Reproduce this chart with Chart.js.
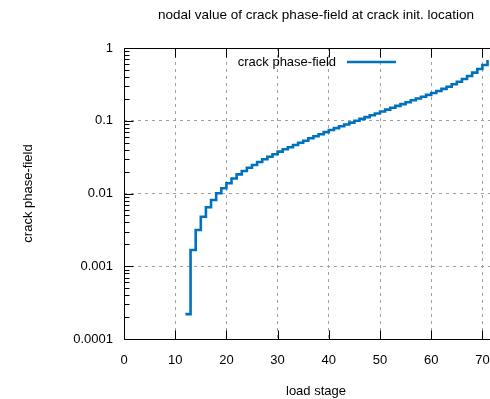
<!DOCTYPE html>
<html>
<head>
<meta charset="utf-8">
<script src="https://cdn.jsdelivr.net/npm/chart.js@4/dist/chart.umd.min.js"></script>
<style>
  html, body { margin: 0; padding: 0; overflow: hidden; background: #fff; }
  canvas { display: block; }
</style>
</head>
<body>
<canvas id="chart" width="632" height="399"></canvas>
<script>
// ------------------- Data -------------------
const loadStage = [12, 13, 14, 15, 16, 17, 18, 19, 20, 21, 22, 23, 24, 25, 26, 27, 28, 29, 30,
  31, 32, 33, 34, 35, 36, 37, 38, 39, 40, 41, 42, 43, 44, 45, 46, 47, 48, 49, 50,
  51, 52, 53, 54, 55, 56, 57, 58, 59, 60, 61, 62, 63, 64, 65, 66, 67, 68, 69, 70, 71];
const phaseField = [2.2e-4, 1.67e-3, 3.15e-3, 4.8e-3, 6.46e-3, 8.14e-3, 1.006e-2, 1.18e-2, 1.38e-2,
  1.61e-2, 1.83e-2, 2.04e-2, 2.26e-2, 2.47e-2, 2.71e-2, 2.95e-2, 3.2e-2, 3.46e-2, 3.76e-2,
  4.05e-2, 4.32e-2, 4.64e-2, 4.99e-2, 5.32e-2, 5.74e-2, 6.13e-2, 6.53e-2, 6.98e-2, 7.46e-2,
  7.93e-2, 8.39e-2, 8.88e-2, 9.43e-2, 9.98e-2, 0.106, 0.112, 0.119, 0.126, 0.134,
  0.142, 0.151, 0.160, 0.169, 0.180, 0.191, 0.202, 0.214, 0.227, 0.241,
  0.256, 0.274, 0.294, 0.317, 0.343, 0.375, 0.412, 0.458, 0.514, 0.584, 0.684];
const xTicks = [0, 10, 20, 30, 40, 50, 60, 70];
const yTicks = [0.0001, 0.001, 0.01, 0.1, 1];
const yTickLabels = ["0.0001", "0.001", "0.01", "0.1", "1"];

const FONT = "'Liberation Sans', Arial, sans-serif";
const LINE_COLOR = "#0072bd";

// ------------------- Frame, ticks, key -------------------
const framePlugin = {
  id: "frame",
  afterDatasetsDraw(chart) {
    const ctx = chart.ctx;
    const { left, right, top, bottom } = chart.chartArea;
    const xs = chart.scales.x, ys = chart.scales.y;
    const L = Math.round(left) + 0.5, T = Math.round(top) + 0.5, B = Math.round(bottom) + 0.5;
    ctx.save();
    ctx.strokeStyle = "#000";
    ctx.lineWidth = 1;
    ctx.beginPath();
    ctx.moveTo(L, T); ctx.lineTo(right, T);
    ctx.moveTo(L, T); ctx.lineTo(L, B);
    ctx.moveTo(L, B); ctx.lineTo(right, B);
    // x ticks, inward, bottom and top
    xTicks.forEach(v => {
      const px = Math.round(xs.getPixelForValue(v)) + 0.5;
      ctx.moveTo(px, B); ctx.lineTo(px, B - 9);
      ctx.moveTo(px, T); ctx.lineTo(px, T + 9);
    });
    // y ticks, major and minor
    yTicks.forEach((v, i) => {
      const py = Math.round(ys.getPixelForValue(v)) + 0.5;
      ctx.moveTo(L, py); ctx.lineTo(L + 9, py);
      if (i < yTicks.length - 1) {
        for (let m = 2; m <= 9; m++) {
          const pm = Math.round(ys.getPixelForValue(v * m)) + 0.5;
          ctx.moveTo(L, pm); ctx.lineTo(L + 5, pm);
        }
      }
    });
    ctx.stroke();

    // key
    const ds = chart.data.datasets[0];
    ctx.font = "13px " + FONT;
    ctx.fillStyle = "#000";
    ctx.textAlign = "right";
    ctx.textBaseline = "middle";
    ctx.fillText(ds.label, 336, 62);
    ctx.strokeStyle = LINE_COLOR;
    ctx.lineWidth = 2.5;
    ctx.beginPath();
    ctx.moveTo(347, 62); ctx.lineTo(396, 62);
    ctx.stroke();
    ctx.restore();
  }
};

// ------------------- Chart -------------------
new Chart(document.getElementById("chart"), {
  type: "line",
  data: {
    datasets: [{
      label: "crack phase-field",
      data: loadStage.map((s, i) => ({ x: s, y: phaseField[i] })),
      borderColor: LINE_COLOR,
      borderWidth: 2.6,
      pointRadius: 0,
      stepped: "before",
      fill: false
    }]
  },
  options: {
    responsive: false,
    animation: false,
    layout: { padding: 0 },
    plugins: {
      legend: { display: false },
      tooltip: { enabled: false },
      title: {
        display: true,
        text: "nodal value of crack phase-field at crack init. location",
        color: "#000",
        font: { family: FONT, size: 13.5, weight: "normal" },
        padding: { top: 7, bottom: 24.8 }
      }
    },
    scales: {
      x: {
        type: "linear",
        min: 0,
        max: 75,
        afterBuildTicks: s => { s.ticks = xTicks.map(v => ({ value: v })); },
        afterFit: s => { s.height = 60; },
        ticks: {
          color: "#000",
          font: { family: FONT, size: 13 },
          padding: 14,
          maxRotation: 0,
          callback: v => String(v)
        },
        grid: { color: "#a0a0a0", lineWidth: 1, drawTicks: false },
        border: { display: false, dash: [3, 4] },
        title: {
          display: true,
          text: "load stage",
          color: "#000",
          font: { family: FONT, size: 13 },
          padding: { top: 0, bottom: 0 }
        }
      },
      y: {
        type: "logarithmic",
        min: 0.0001,
        max: 1,
        afterBuildTicks: s => { s.ticks = yTicks.map(v => ({ value: v })); },
        afterFit: s => { s.width = 124; },
        ticks: {
          color: "#000",
          font: { family: FONT, size: 13 },
          padding: 11,
          callback: v => yTickLabels[yTicks.indexOf(v)]
        },
        grid: { color: "#a0a0a0", lineWidth: 1, drawTicks: false },
        border: { display: false, dash: [3, 4] },
        title: {
          display: true,
          text: "crack phase-field",
          color: "#000",
          font: { family: FONT, size: 13 },
          padding: { top: 21, bottom: 0 }
        }
      },
      // empty right-hand margin so the plot and title sit as in the original page
      yRight: {
        type: "logarithmic",
        position: "right",
        min: 0.0001,
        max: 1,
        afterFit: s => { s.width = 124; },
        ticks: { display: false },
        grid: { display: false, drawOnChartArea: false },
        border: { display: false }
      }
    }
  },
  plugins: [framePlugin]
});
</script>
</body>
</html>
